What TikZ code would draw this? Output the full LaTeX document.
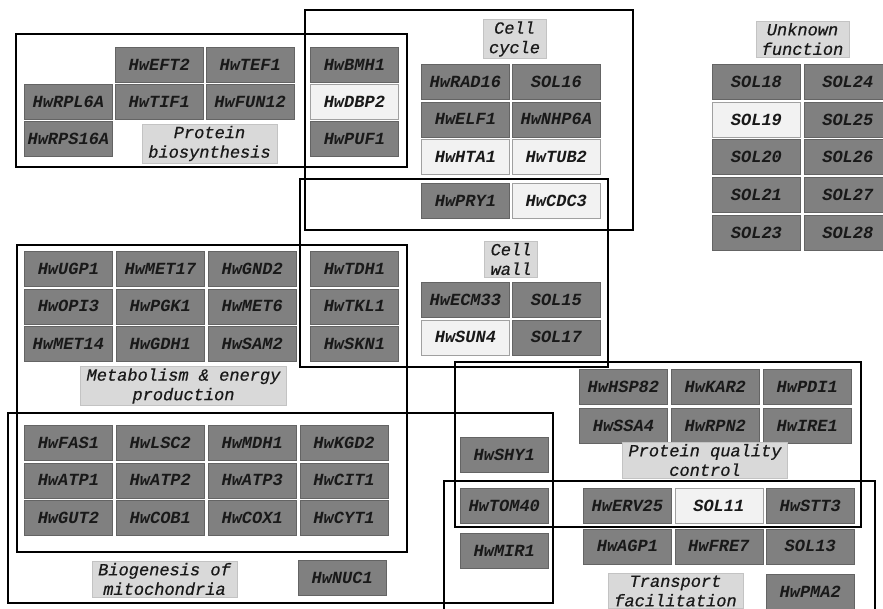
\documentclass[tikz,border=0pt]{standalone}
\usepackage{fontspec}
\setmonofont{Liberation Mono}
\newfontfamily\catmono{Liberation Mono}[FakeBold=0.6]
\usepackage{tikz}
\usetikzlibrary{matrix}
\usetikzlibrary{shapes, positioning}

\definecolor{genedark}{RGB}{128,128,128}
\definecolor{genedarkline}{RGB}{100,100,100}
\definecolor{genelight}{RGB}{242,242,242}
\definecolor{genelightline}{RGB}{160,160,160}
\definecolor{catfill}{RGB}{217,217,217}
\definecolor{catline}{RGB}{195,195,195}

\newcommand{\genefont}{\ttfamily\bfseries\itshape\fontsize{17}{19.5}\selectfont}
\newcommand{\catfont}{\catmono\itshape\fontsize{17}{19.5}\selectfont}

\begin{document}
\begin{tikzpicture}[x=1pt, y=-1pt]
			\tikzset{
				gene/.style={draw=genedarkline, fill=genedark, text=black!90, font=\genefont, minimum width=88pt, minimum height=35pt, inner sep=0pt},
				lightgene/.style={draw=genelightline, fill=genelight},
				category/.style={draw=catline, fill=catfill, text=black!90, font=\catfont, align=center, inner xsep=6pt, inner ysep=2pt},
				genegrid/.style={matrix of nodes, anchor=north west, inner sep=0pt, nodes={gene}, column sep=2.5pt, row sep=2pt},
				group/.style={draw=black, line width=2.4pt}
			}
			\useasboundingbox (0,0) rectangle (883,609);
			\matrix [genegrid, row sep=1.5pt] (pb) at (24,47) {
				& HwEFT2 & HwTEF1 \\
				HwRPL6A & HwTIF1 & HwFUN12 \\
				HwRPS16A & & \\
			};
			\matrix [genegrid, row sep=1.5pt] (pbx) at (310,47) {
				HwBMH1 \\
				|[lightgene]| HwDBP2 \\
				HwPUF1 \\
			};
			\matrix [genegrid, row sep=2pt] (cc) at (421,64) {
				HwRAD16 & SOL16 \\
				HwELF1 & HwNHP6A \\
				|[lightgene]| HwHTA1 & |[lightgene]| HwTUB2 \\[7pt]
				HwPRY1 & |[lightgene]| HwCDC3 \\
			};
			\matrix [genegrid, column sep=3pt, row sep=2.25pt] (uf) at (712,64) {
				SOL18 & SOL24 \\
				|[lightgene]| SOL19 & SOL25 \\
				SOL20 & SOL26 \\
				SOL21 & SOL27 \\
				SOL23 & SOL28 \\
			};
			\matrix [genegrid, column sep=3.5pt] (me) at (24,251) {
				HwUGP1 & HwMET17 & HwGND2 \\
				HwOPI3 & HwPGK1 & HwMET6 \\
				HwMET14 & HwGDH1 & HwSAM2 \\
			};
			\matrix [genegrid] (mex) at (310,251) {
				HwTDH1 \\
				HwTKL1 \\
				HwSKN1 \\
			};
			\matrix [genegrid] (cw) at (421,282) {
				HwECM33 & SOL15 \\
				|[lightgene]| HwSUN4 & SOL17 \\
			};
			\matrix [genegrid, column sep=3.5pt] (bm) at (24,425) {
				HwFAS1 & HwLSC2 & HwMDH1 & HwKGD2 \\
				HwATP1 & HwATP2 & HwATP3 & HwCIT1 \\
				HwGUT2 & HwCOB1 & HwCOX1 & HwCYT1 \\
			};
			\node [gene, anchor=north west] (nuc) at (298,560) {HwNUC1};
			\node [gene, anchor=north west] (shy) at (460,437) {HwSHY1};
			\node [gene, anchor=north west] (tom) at (460,488) {HwTOM40};
			\node [gene, anchor=north west] (mir) at (460,533) {HwMIR1};
			\matrix [genegrid, column sep=3.5pt, row sep=3pt] (pq) at (579,369) {
				HwHSP82 & HwKAR2 & HwPDI1 \\
				HwSSA4 & HwRPN2 & HwIRE1 \\
			};
			\matrix [genegrid, column sep=3pt, row sep=10pt] (tp) at (583,488) {
				HwERV25 & |[lightgene]| SOL11 & HwSTT3 \\[-5pt]
				HwAGP1 & HwFRE7 & SOL13 \\
				& & HwPMA2 \\
			};
			\node [category] (pblabel) at (209.5,143.5) {Protein\\biosynthesis};
			\node [category] (cclabel) at (514.5,39) {Cell\\cycle};
			\node [category] (uflabel) at (802.5,39) {Unknown\\function};
			\node [category] (melabel) at (183.5,386) {Metabolism \& energy\\production};
			\node [category] (cwlabel) at (511,259) {Cell\\wall};
			\node [category] (pqlabel) at (705,460) {Protein quality\\control};
			\node [category] (tplabel) at (675.5,591) {Transport\\facilitation};
			\node [category] (bmlabel) at (164.5,579) {Biogenesis of\\mitochondria};
			\draw[group] (16,34) rectangle (407,167);
			\draw[group] (305,10) rectangle (633,230);
			\draw[group] (300,179) rectangle (608,367);
			\draw[group] (17,245) rectangle (407,552);
			\draw[group] (8,413) rectangle (553,603);
			\draw[group] (455,362) rectangle (861,527);
			\draw[group] (444,481) rectangle (875,620);
		\end{tikzpicture}
\end{document}
